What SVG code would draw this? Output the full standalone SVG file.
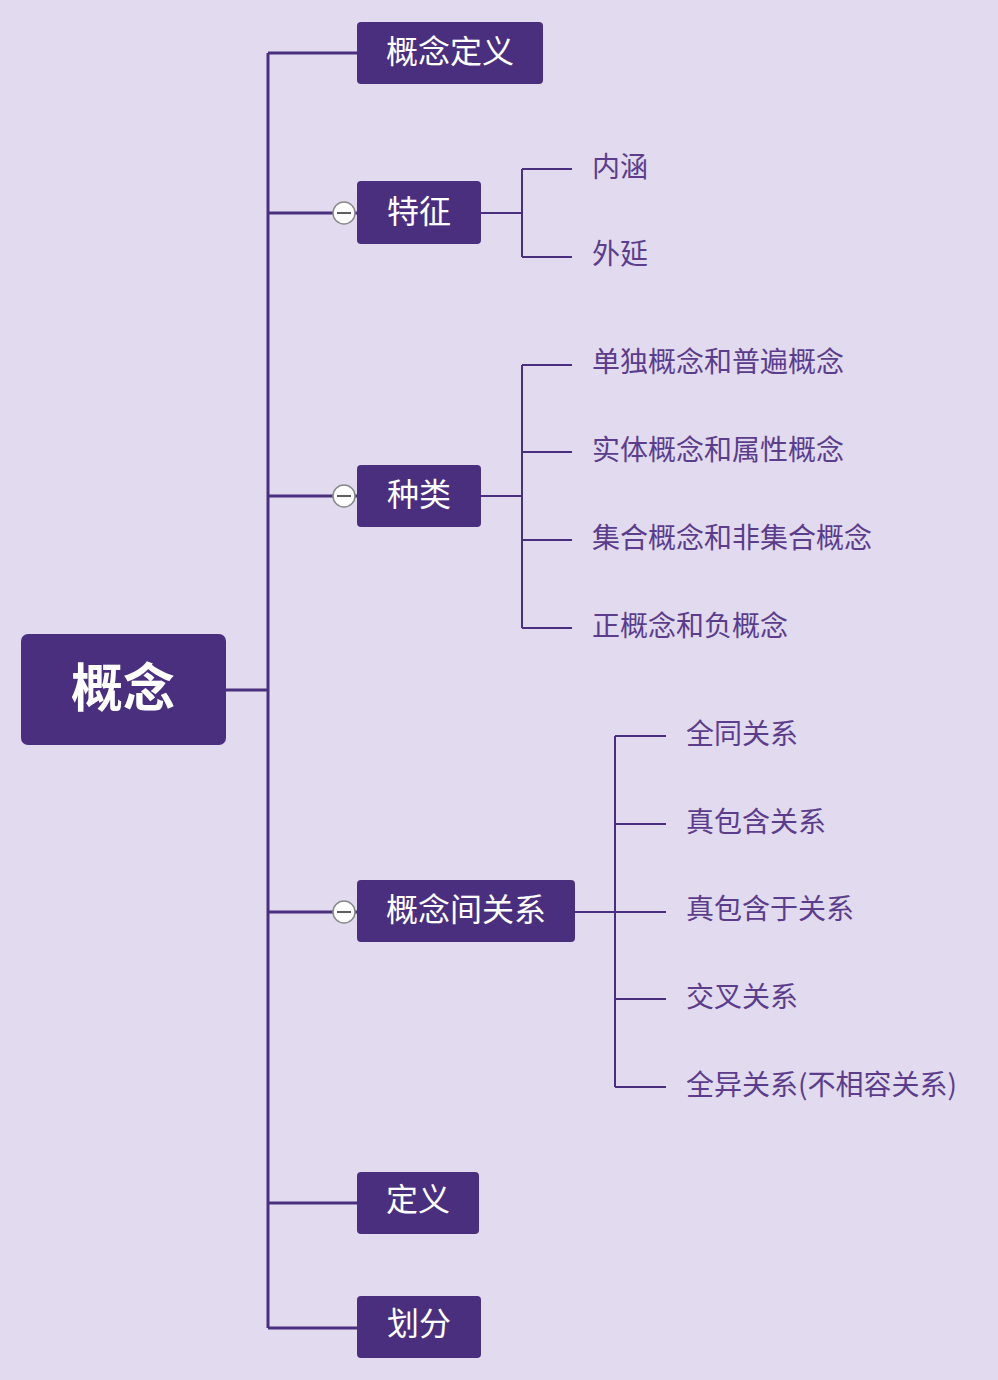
<svg xmlns="http://www.w3.org/2000/svg" width="998" height="1380" viewBox="0 0 998 1380">
<style>
.bg{fill:#E2DAEE}
.node{fill:#4B2F7F}
.nt{fill:#FFFFFF;font-family:"Noto Sans CJK SC","Noto Sans",sans-serif;font-size:32px;text-anchor:middle}
.rt{fill:#FFFFFF;font-family:"Noto Sans CJK SC","Noto Sans",sans-serif;font-size:52px;font-weight:bold;text-anchor:middle}
.lt{fill:#5B3D8C;font-family:"Noto Sans CJK SC","Noto Sans",sans-serif;font-size:28px}
.main{stroke:#4B2F7F;stroke-width:3;fill:none}
.sub{stroke:#4B2F7F;stroke-width:2;fill:none}
.col{fill:#FFFFFF;stroke:#8A8A8A;stroke-width:1.5}
.colm{stroke:#5E5E5E;stroke-width:2}
</style>
<rect class="bg" x="0" y="0" width="998" height="1380"/>
<g id="connectors">
<path class="main" d="M226 690 H268 M268 53 V1328 M268 53 H357 M268 213 H357 M268 496 H357 M268 912 H357 M268 1203 H357 M268 1328 H357"/>
<path class="sub" d="M481 213 H522 M522 169 V257 M522 169 H572 M522 257 H572"/>
<path class="sub" d="M481 496 H522 M522 365 V628 M522 365 H572 M522 452 H572 M522 540 H572 M522 628 H572"/>
<path class="sub" d="M575 912 H666 M615 736 V1087 M615 736 H666 M615 824 H666 M615 999 H666 M615 1087 H666"/>
</g>
<g id="root">
<rect class="node" x="21" y="634" width="205" height="111" rx="7"/>
<text class="rt" x="123" y="707">概念</text>
</g>
<g id="n-gainiandingyi">
<rect class="node" x="357" y="22" width="186" height="62" rx="4"/>
<text class="nt" x="450" y="63">概念定义</text>
</g>
<g id="n-tezheng">
<rect class="node" x="357" y="181" width="124" height="63" rx="4"/>
<text class="nt" x="419" y="223">特征</text>
<circle class="col" cx="344" cy="213" r="11"/>
<line class="colm" x1="337" y1="213" x2="351" y2="213"/>
</g>
<g id="n-zhonglei">
<rect class="node" x="357" y="465" width="124" height="62" rx="4"/>
<text class="nt" x="419" y="506">种类</text>
<circle class="col" cx="344" cy="496" r="11"/>
<line class="colm" x1="337" y1="496" x2="351" y2="496"/>
</g>
<g id="n-guanxi">
<rect class="node" x="357" y="880" width="218" height="62" rx="4"/>
<text class="nt" x="466" y="921">概念间关系</text>
<circle class="col" cx="344" cy="912" r="11"/>
<line class="colm" x1="337" y1="912" x2="351" y2="912"/>
</g>
<g id="n-dingyi">
<rect class="node" x="357" y="1172" width="122" height="62" rx="4"/>
<text class="nt" x="418" y="1211">定义</text>
</g>
<g id="n-huafen">
<rect class="node" x="357" y="1296" width="124" height="62" rx="4"/>
<text class="nt" x="419" y="1335">划分</text>
</g>
<g id="l-neihan"><text class="lt" x="592" y="177">内涵</text></g>
<g id="l-waiyan"><text class="lt" x="592" y="264">外延</text></g>
<g id="l-1"><text class="lt" x="592" y="372">单独概念和普遍概念</text></g>
<g id="l-2"><text class="lt" x="592" y="460">实体概念和属性概念</text></g>
<g id="l-3"><text class="lt" x="592" y="548">集合概念和非集合概念</text></g>
<g id="l-4"><text class="lt" x="592" y="636">正概念和负概念</text></g>
<g id="l-5"><text class="lt" x="686" y="744">全同关系</text></g>
<g id="l-6"><text class="lt" x="686" y="832">真包含关系</text></g>
<g id="l-7"><text class="lt" x="686" y="919">真包含于关系</text></g>
<g id="l-8"><text class="lt" x="686" y="1007">交叉关系</text></g>
<g id="l-9"><text class="lt" x="686" y="1095">全异关系(不相容关系)</text></g>
</svg>
